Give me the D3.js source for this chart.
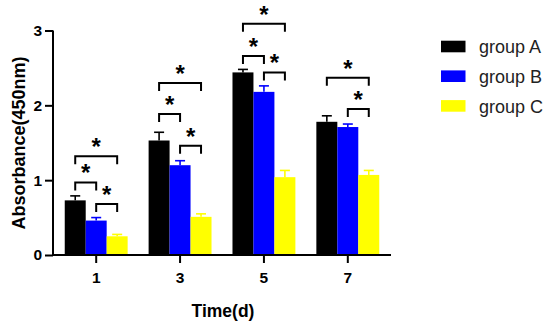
<!DOCTYPE html>
<html><head><meta charset="utf-8">
<script src="https://cdn.jsdelivr.net/npm/d3@7"></script>
<style>body{margin:0;background:#fff}svg{display:block}text{font-family:"Liberation Sans",Arial,sans-serif}</style>
</head><body><svg id="c" width="550" height="326"></svg>
<script>
const days = ["1","3","5","7"];
const groups = ["group A","group B","group C"];
const colors = ["#000000","#0000ff","#ffff00"];
const valuesA = [0.73,1.53,2.44,1.78];
const valuesB = [0.46,1.20,2.18,1.71];
const valuesC = [0.25,0.51,1.04,1.07];
const errA = [0.06,0.11,0.04,0.08];
const errB = [0.04,0.06,0.08,0.04];
const errC = [0.025,0.04,0.09,0.06];
const yTicks = [0,1,2,3];
// significance brackets: day, from group index, to group index, level (absorbance units)
const sigDay = ["1","1","1","3","3","3","5","5","5","7","7"];
const sigFrom = [0,0,1,0,0,1,0,0,1,0,1];
const sigTo = [2,1,2,2,1,2,2,1,2,2,2];
const sigLevel = [1.32,0.97,0.68,2.30,1.885,1.46,3.09,2.66,2.44,2.37,1.95];

const series = [valuesA,valuesB,valuesC];
const errs = [errA,errB,errC];
const svg = d3.select("#c");
const x = d3.scaleBand().domain(days).range([53,391]).paddingInner(0.25).paddingOuter(0.14);
const xi = d3.scaleBand().domain([0,1,2]).range([0,x.bandwidth()]);
const y = d3.scaleLinear().domain([0,3]).range([255,30.5]);

const rows = [];
days.forEach((d,i)=>groups.forEach((g,j)=>rows.push({d,i,j,v:series[j][i],e:errs[j][i]})));

// error bars
const eb = svg.append("g");
rows.forEach(r=>{
  const cx = x(r.d)+xi(r.j)+xi.bandwidth()/2;
  const c = colors[r.j];
  eb.append("line").attr("x1",cx).attr("x2",cx).attr("y1",y(r.v)).attr("y2",y(r.v+r.e)).attr("stroke",c).attr("stroke-width",1.6);
  eb.append("line").attr("x1",cx-5).attr("x2",cx+5).attr("y1",y(r.v+r.e)).attr("y2",y(r.v+r.e)).attr("stroke",c).attr("stroke-width",1.6);
});
// bars
svg.append("g").selectAll("rect").data(rows).join("rect")
  .attr("x",r=>x(r.d)+xi(r.j)).attr("width",xi.bandwidth())
  .attr("y",r=>y(r.v)).attr("height",r=>y(0)-y(r.v)).attr("fill",r=>colors[r.j]);

// axes
const ya = svg.append("g").attr("transform","translate(53,0)").call(d3.axisLeft(y).tickValues(yTicks).tickFormat(d3.format("d")).tickSize(8).tickPadding(3));
const xa = svg.append("g").attr("transform","translate(0,255)").call(d3.axisBottom(x).tickSize(8).tickPadding(8.5));
[ya,xa].forEach(a=>{
  a.selectAll("path,line").attr("stroke","#000").attr("stroke-width",2);
  a.selectAll("text").attr("fill","#000").style("font-size","15.5px").style("font-weight","bold");
});
xa.select(".domain").attr("d","M53,0H391");
ya.select(".domain").attr("d","M0,30.5V256");

// significance
const sg = svg.append("g");
sigDay.forEach((d,k)=>{
  const x1 = x(d)+xi(sigFrom[k])+xi.bandwidth()/2;
  const x2 = x(d)+xi(sigTo[k])+xi.bandwidth()/2;
  const yy = y(sigLevel[k]);
  sg.append("path").attr("d",`M${x1},${yy+8}V${yy}H${x2}V${yy+8}`).attr("fill","none").attr("stroke","#000").attr("stroke-width",2);
  sg.append("text").attr("x",(x1+x2)/2).attr("y",yy-1).attr("text-anchor","middle").style("font-size","24px").style("font-weight","bold").attr("fill","#000").text("*");
});

// axis titles
svg.append("text").attr("transform","translate(24.5,143) rotate(-90)").attr("text-anchor","middle").style("font-size","18px").style("font-weight","bold").text("Absorbance(450nm)");
svg.append("text").attr("x",223).attr("y",316.5).attr("text-anchor","middle").style("font-size","17.5px").style("font-weight","bold").text("Time(d)");

// legend
const lg = svg.append("g");
groups.forEach((g,j)=>{
  lg.append("rect").attr("x",441).attr("y",40.7+j*29.7).attr("width",24.5).attr("height",11.6).attr("fill",colors[j]);
  lg.append("text").attr("x",479).attr("y",53.3+j*29.7).style("font-size","18px").attr("fill","#222").text(g);
});
</script></body></html>
